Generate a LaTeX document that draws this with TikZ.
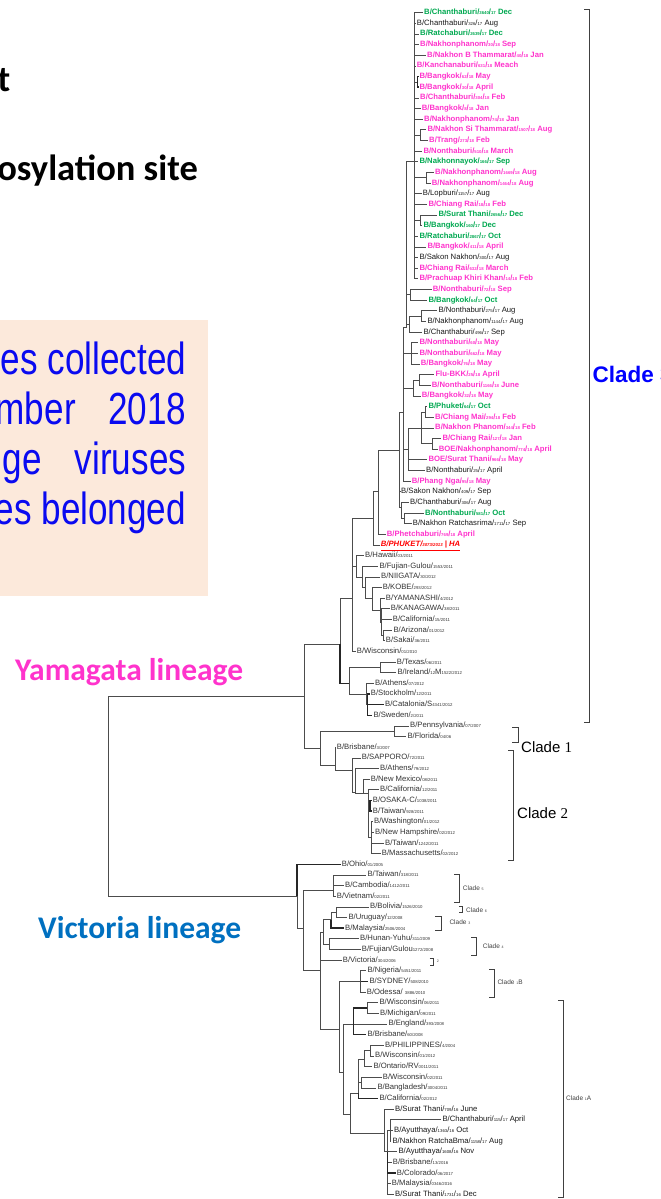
\documentclass[tikz,border=0pt]{standalone}
\usepackage{fontspec}
\setmainfont{Liberation Sans}
\newfontfamily\slidefont{Carlito}
\newfontfamily\narrowfont[FakeStretch=0.78]{Liberation Sans}
\newfontfamily\numfont{Liberation Serif}
\definecolor{magleaf}{RGB}{255,51,204}
\definecolor{grnleaf}{RGB}{0,168,80}
\definecolor{yamag}{RGB}{255,51,204}
\definecolor{vicblue}{RGB}{0,112,192}
\definecolor{cladeblue}{RGB}{0,0,255}
\definecolor{boxfill}{RGB}{252,233,219}
\definecolor{boxtext}{RGB}{10,10,240}
\newcommand{\sn}[1]{{\fontsize{4.3}{4}\selectfont #1}}
\newcommand{\cn}[1]{{\fontsize{3.6}{4}\selectfont #1}}

\begin{document}
\begin{tikzpicture}[x=1pt,y=-1pt,
    leaf/.style={anchor=west,inner sep=1pt,text height=5.6pt,text depth=1.6pt,font=\fontsize{7.7}{8}\selectfont},
    mg/.style={leaf,text=magleaf,font=\fontsize{7.7}{8}\selectfont\bfseries},
    gr/.style={leaf,text=grnleaf,font=\fontsize{7.7}{8}\selectfont\bfseries},
    bk/.style={leaf,text=black!90},
    rf/.style={leaf,text=black!80},
    hi/.style={leaf,text=red,font=\fontsize{7.7}{8}\selectfont\bfseries\itshape},
    br/.style={draw=black!70,line width=0.7pt},
    thk/.style={draw=black!85,line width=1.5pt},
    brk/.style={draw=black!75,line width=0.8pt},
    smallclade/.style={anchor=west,inner sep=0pt,text=black!75,font=\fontsize{6.5}{7}\selectfont},
    bigclade/.style={anchor=west,inner sep=0pt,font=\fontsize{15}{15}\selectfont},
    slide/.style={inner sep=0pt,font=\slidefont\fontsize{36.5}{37}\selectfont\bfseries},
    lineage/.style={anchor=base west,inner sep=0pt,font=\slidefont\fontsize{31.5}{32}\selectfont\bfseries},
    boxline/.style={anchor=base east,inner sep=0pt,text=boxtext,font=\narrowfont\fontsize{45}{45}\selectfont}]
  \useasboundingbox (0,0) rectangle (661,1199);

  \node[slide,anchor=base east] (frag1) at (10.5,91) {t};
  \node[slide,anchor=base east] (frag2) at (198,180) {osylation site};
  \fill[boxfill] (0,319.6) rectangle (207.8,596.3);
  \node[boxline] (bx1) at (186.3,374) {es collected};
  \node[boxline] (bx2a) at (75.9,424) {mber};
  \node[boxline] (bx2b) at (186.3,424) {2018};
  \node[boxline] (bx3a) at (42,474) {ge};
  \node[boxline] (bx3b) at (186.3,474) {viruses};
  \node[boxline] (bx4) at (186.3,524) {es belonged};
  \node[lineage,text=yamag] (yam) at (14.8,680) {Yamagata lineage};
  \node[lineage,text=vicblue] (vic) at (38,938) {Victoria lineage};

  \begin{scope}[y=-10.645pt,yshift=-2.055pt]
    \coordinate (root) at (108,74.6);
    \coordinate (Y) at (304,65.2);
    \coordinate (V) at (297,84);
    \coordinate (A) at (340,60.3);
    \coordinate (C12) at (320,70.1);
    \coordinate (S) at (352,56);
    \coordinate (W) at (349.3,64);
    \coordinate (R0) at (373,48.5);
    \coordinate (R1) at (378,46);
    \coordinate (Q) at (399.5,42.1);
    \coordinate (P2) at (403.3,38.5);
    \coordinate (P1) at (406,30.6);
    \coordinate (T1) at (414,15);
    \coordinate (s78) at (417.7,7.5);
    \coordinate (s1213) at (420,12.5);
    \coordinate (s1617) at (426.7,16.5);
    \coordinate (s2021) at (420,20.5);
    \coordinate (s2728) at (410.7,27.5);
    \coordinate (s2931) at (409.3,30.25);
    \coordinate (s2930) at (421.7,29.5);
    \coordinate (a32) at (411.7,33);
    \coordinate (a37) at (413.3,36.25);
    \coordinate (a35) at (419.3,35.5);
    \coordinate (c43) at (408.3,42);
    \coordinate (b2) at (421.7,40);
    \coordinate (b1) at (425,38.5);
    \coordinate (b3) at (432.7,41.5);
    \coordinate (d47) at (401.7,47.5);
    \coordinate (d48) at (404,48.5);
    \coordinate (h1) at (356.7,53);
    \coordinate (h2) at (362.7,54);
    \coordinate (h3) at (365,55);
    \coordinate (h4) at (372,56);
    \coordinate (h5) at (380,57.1);
    \coordinate (h6) at (381.7,58.25);
    \coordinate (h7) at (383,59.5);
    \coordinate (ti) at (380,62.5);
    \coordinate (as) at (366,65);
    \coordinate (as2) at (367.3,66);
    \coordinate (c1) at (394,68.5);
    \coordinate (c2) at (335,71.7);
    \coordinate (c2b) at (352.7,72.2);
    \coordinate (c2c) at (355,74.2);
    \coordinate (c2d) at (363.3,74.3);
    \coordinate (c2e) at (368.3,74.3);
    \coordinate (c2f) at (370,75.5);
    \coordinate (c2g) at (371.7,78.5);
    \coordinate (v1) at (303.3,87);
    \coordinate (c5) at (333,83.4);
    \coordinate (v2) at (320.7,91);
    \coordinate (c346) at (323.3,87.4);
    \coordinate (c36) at (331,86.2);
    \coordinate (n36) at (336,85.5);
    \coordinate (c4) at (329.3,88.5);
    \coordinate (v4) at (339.3,96.5);
    \coordinate (c1b) at (360.7,92);
    \coordinate (c1a) at (343.3,100.55);
    \coordinate (e1) at (353.3,96);
    \coordinate (e1a) at (367.3,94.5);
    \coordinate (e2) at (350,104.5);
    \coordinate (e3) at (358.3,102.5);
    \coordinate (e5) at (364,99.3);
    \coordinate (e5a) at (370,98.5);
    \coordinate (e6) at (361.7,101.5);
    \coordinate (e4) at (384.3,106.3);
    \coordinate (e7) at (387.3,108);
    \coordinate (e8) at (390,106);

    \node[gr] (l1) at (423,1) {B/Chanthaburi/\sn{3640}/\sn{17} Dec};
    \node[bk] (l2) at (415.7,2) {B/Chanthaburi/\sn{326}/\sn{17} Aug};
    \node[gr] (l3) at (419,3) {B/Ratchaburi/\sn{2639}/\sn{17} Dec};
    \node[mg] (l4) at (419,4) {B/Nakhonphanom/\sn{30}/\sn{18} Sep};
    \node[mg] (l5) at (426,5) {B/Nakhon B Thammarat/\sn{40}/\sn{18} Jan};
    \node[mg] (l6) at (415.7,6) {B/Kanchanaburi/\sn{631}/\sn{18} Meach};
    \node[mg] (l7) at (418.3,7) {B/Bangkok/\sn{62}/\sn{18} May};
    \node[mg] (l8) at (418.3,8) {B/Bangkok/\sn{30}/\sn{18} April};
    \node[mg] (l9) at (419,9) {B/Chanthaburi/\sn{304}/\sn{18} Feb};
    \node[mg] (l10) at (420.7,10) {B/Bangkok/\sn{8}/\sn{18} Jan};
    \node[mg] (l11) at (423,11) {B/Nakhonphanom/\sn{74}/\sn{18} Jan};
    \node[mg] (l12) at (426.3,12) {B/Nakhon Si Thammarat/\sn{1507}/\sn{18} Aug};
    \node[mg] (l13) at (428,13) {B/Trang/\sn{273}/\sn{18} Feb};
    \node[mg] (l14) at (422.3,14) {B/Nonthaburi/\sn{510}/\sn{18} March};
    \node[gr] (l15) at (418.3,15) {B/Nakhonnayok/\sn{166}/\sn{17} Sep};
    \node[mg] (l16) at (434,16) {B/Nakhonphanom/\sn{1669}/\sn{18} Aug};
    \node[mg] (l17) at (430.7,17) {B/Nakhonphanom/\sn{1464}/\sn{18} Aug};
    \node[bk] (l18) at (421.7,18) {B/Lopburi/\sn{1157}/\sn{17} Aug};
    \node[mg] (l19) at (427.3,19) {B/Chiang Rai/\sn{18}/\sn{18} Feb};
    \node[gr] (l20) at (437.3,20) {B/Surat Thani/\sn{2656}/\sn{17} Dec};
    \node[gr] (l21) at (422.3,21) {B/Bangkok/\sn{160}/\sn{17} Dec};
    \node[gr] (l22) at (418.3,22) {B/Ratchaburi/\sn{2867}/\sn{17} Oct};
    \node[mg] (l23) at (426.3,23) {B/Bangkok/\sn{411}/\sn{18} April};
    \node[bk] (l24) at (418.3,24) {B/Sakon Nakhon/\sn{300}/\sn{17} Aug};
    \node[mg] (l25) at (418.3,25) {B/Chiang Rai/\sn{632}/\sn{18} March};
    \node[mg] (l26) at (418.3,26) {B/Prachuap Khiri Khan/\sn{14}/\sn{18} Feb};
    \node[mg] (l27) at (431.7,27) {B/Nonthaburi/\sn{72}/\sn{18} Sep};
    \node[gr] (l28) at (427.3,28) {B/Bangkok/\sn{64}/\sn{17} Oct};
    \node[bk] (l29) at (437.3,29) {B/Nonthaburi/\sn{275}/\sn{17} Aug};
    \node[bk] (l30) at (426.3,30) {B/Nakhonphanom/\sn{1144}/\sn{17} Aug};
    \node[bk] (l31) at (422.3,31) {B/Chanthaburi/\sn{496}/\sn{17} Sep};
    \node[mg] (l32) at (418.3,32) {B/Nonthaburi/\sn{60}/\sn{18} May};
    \node[mg] (l33) at (418.3,33) {B/Nonthaburi/\sn{662}/\sn{18} May};
    \node[mg] (l34) at (419.7,34) {B/Bangkok/\sn{76}/\sn{18} May};
    \node[mg] (l35) at (434.3,35) {Flu-BKK/\sn{25}/\sn{18} April};
    \node[mg] (l36) at (430.7,36) {B/Nonthaburi/\sn{1166}/\sn{18} June};
    \node[mg] (l37) at (420.7,37) {B/Bangkok/\sn{32}/\sn{18} May};
    \node[gr] (l38) at (427.3,38) {B/Phuket/\sn{64}/\sn{17} Oct};
    \node[mg] (l39) at (434,39) {B/Chiang Mai/\sn{294}/\sn{18} Feb};
    \node[mg] (l40) at (434,40) {B/Nakhon Phanom/\sn{344}/\sn{18} Feb};
    \node[mg] (l41) at (441.3,41) {B/Chiang Rai/\sn{127}/\sn{18} Jan};
    \node[mg] (l42) at (437.7,42) {BOE/Nakhonphanom/\sn{774}/\sn{18} April};
    \node[mg] (l43) at (427.3,43) {BOE/Surat Thani/\sn{966}/\sn{18} May};
    \node[bk] (l44) at (425,44) {B/Nonthaburi/\sn{25}/\sn{17} April};
    \node[mg] (l45) at (410.7,45) {B/Phang Nga/\sn{95}/\sn{18} May};
    \node[bk] (l46) at (400,46) {B/Sakon Nakhon/\sn{409}/\sn{17} Sep};
    \node[bk] (l47) at (409,47) {B/Chanthaburi/\sn{306}/\sn{17} Aug};
    \node[gr] (l48) at (424,48) {B/Nonthaburi/\sn{581}/\sn{17} Oct};
    \node[bk] (l49) at (411.7,49) {B/Nakhon Ratchasrima/\sn{1711}/\sn{17} Sep};
    \node[mg] (l50) at (385.7,50) {B/Phetchaburi/\sn{769}/\sn{18} April};
    \node[hi] (l51) at (379.7,51) {\underline{B/PHUKET/\sn{3073/2013} | HA}};
    \node[rf] (l52) at (364,52) {B/Hawaii/\sn{03/2011}};
    \node[rf] (l53) at (378.3,53) {B/Fujian-Gulou/\sn{1553/2011}};
    \node[rf] (l54) at (380,54) {B/NIIGATA/\sn{30/2012}};
    \node[rf] (l55) at (381.7,55) {B/KOBE/\sn{293/2012}};
    \node[rf] (l56) at (384.7,56) {B/YAMANASHI/\sn{4/2012}};
    \node[rf] (l57) at (389.7,57) {B/KANAGAWA/\sn{38/2011}};
    \node[rf] (l58) at (391.7,58) {B/California/\sn{15/2011}};
    \node[rf] (l59) at (392.3,59) {B/Arizona/\sn{01/2012}};
    \node[rf] (l60) at (384.7,60) {B/Sakai/\sn{36/2011}};
    \node[rf] (l61) at (355.7,61) {B/Wisconsin/\sn{01/2010}};
    \node[rf] (l62) at (395.7,62) {B/Texas/\sn{06/2011}};
    \node[rf] (l63) at (396.3,63) {B/Ireland/\sn{12}M\sn{1522/2012}};
    \node[rf] (l64) at (374,64) {B/Athens/\sn{07/2012}};
    \node[rf] (l65) at (369.7,65) {B/Stockholm/\sn{12/2011}};
    \node[rf] (l66) at (384,66) {B/Catalonia/S\sn{4341/2012}};
    \node[rf] (l67) at (372.3,67) {B/Sweden/\sn{2/2011}};
    \node[rf] (l68) at (409,68) {B/Pennsylvania/\sn{07/2007}};
    \node[rf] (l69) at (406.3,69) {B/Florida/\sn{04/06}};
    \node[rf] (l70) at (335.7,70) {B/Brisbane/\sn{3/2007}};
    \node[rf] (l71) at (360.7,71) {B/SAPPORO/\sn{72/2011}};
    \node[rf] (l72) at (379,72) {B/Athens/\sn{79/2012}};
    \node[rf] (l73) at (369.7,73) {B/New Mexico/\sn{08/2011}};
    \node[rf] (l74) at (379,74) {B/California/\sn{12/2011}};
    \node[rf] (l75) at (371.7,75) {B/OSAKA-C/\sn{1038/2011}};
    \node[rf] (l76) at (371.7,76) {B/Taiwan/\sn{928/2011}};
    \node[rf] (l77) at (373,77) {B/Washington/\sn{01/2012}};
    \node[rf] (l78) at (374,78) {B/New Hampshire/\sn{02/2012}};
    \node[rf] (l79) at (384,79) {B/Taiwan/\sn{1242/2011}};
    \node[rf] (l80) at (380.7,80) {B/Massachusetts/\sn{02/2012}};
    \node[rf] (l81) at (340.7,81) {B/Ohio/\sn{01/2005}};
    \node[rf] (l82) at (366.3,82) {B/Taiwan/\sn{318/2011}};
    \node[rf] (l83) at (344,83) {B/Cambodia/\sn{1412/2011}};
    \node[rf] (l84) at (335.7,84) {B/Vietnam/\sn{02/2011}};
    \node[rf] (l85) at (369,85) {B/Bolivia/\sn{1526/2010}};
    \node[rf] (l86) at (347.3,86) {B/Uruguay/\sn{12/2008}};
    \node[rf] (l87) at (344,87) {B/Malaysia/\sn{2506/2004}};
    \node[rf] (l88) at (359,88) {B/Hunan-Yuhu/\sn{311/2009}};
    \node[rf] (l89) at (360.7,89) {B/Fujian/Gulou\sn{1272/2008}};
    \node[rf] (l90) at (341.7,90) {B/Victoria/\sn{304/2006}};
    \node[rf] (l91) at (366.3,91) {B/Nigeria/\sn{5451/2011}};
    \node[rf] (l92) at (368.3,92) {B/SYDNEY/\sn{508/2010}};
    \node[rf] (l93) at (365.7,93) {B/Odessa/ \sn{3886/2010}};
    \node[rf] (l94) at (378.3,94) {B/Wisconsin/\sn{06/2011}};
    \node[rf] (l95) at (379,95) {B/Michigan/\sn{09/2011}};
    \node[rf] (l96) at (387.3,96) {B/England/\sn{393/2008}};
    \node[rf] (l97) at (366.3,97) {B/Brisbane/\sn{60/2008}};
    \node[rf] (l98) at (384,98) {B/PHILIPPINES/\sn{4/2004}};
    \node[rf] (l99) at (374,99) {B/Wisconsin/\sn{01/2012}};
    \node[rf] (l100) at (372.3,100) {B/Ontario/RV\sn{0011/2011}};
    \node[rf] (l101) at (381.7,101) {B/Wisconsin/\sn{02/2011}};
    \node[rf] (l102) at (376.3,102) {B/Bangladesh/\sn{3004/2011}};
    \node[rf] (l103) at (378.3,103) {B/California/\sn{02/2012}};
    \node[bk] (l104) at (394,104) {B/Surat Thani/\sn{709}/\sn{16} June};
    \node[bk] (l105) at (441.3,105) {B/Chanthaburi/\sn{115}/\sn{17} April};
    \node[bk] (l106) at (393,106) {B/Ayutthaya/\sn{1363}/\sn{16} Oct};
    \node[bk] (l107) at (391.3,107) {B/Nakhon RatchaBma/\sn{1158}/\sn{17} Aug};
    \node[bk] (l108) at (397.3,108) {B/Ayutthaya/\sn{1608}/\sn{16} Nov};
    \node[rf] (l109) at (391.7,109) {B/Brisbane/\sn{13/2016}};
    \node[rf] (l110) at (395.7,110) {B/Colorado/\sn{06/2017}};
    \node[rf] (l111) at (390.7,111) {B/Malaysia/\sn{0346/2016}};
    \node[bk] (l112) at (394,112) {B/Surat Thani/\sn{1731}/\sn{16} Dec};

    \foreach \p/\c in {root/Y,root/V,Y/A,Y/C12,A/S,S/R0,S/h1,S/l61,R0/R1,R0/l51,R1/Q,R1/l50,
        Q/P2,Q/l46,Q/d47,d47/l47,d47/d48,d48/l48,d48/l49,P2/P1,P2/a32,P2/a37,P2/c43,P2/l45,
        P1/T1,P1/s2728,P1/s2931,T1/l1,T1/l2,T1/l3,T1/l4,T1/l5,T1/l6,T1/s78,T1/l9,T1/l10,T1/l11,
        T1/s1213,T1/l14,T1/l15,T1/s1617,T1/l18,T1/l19,T1/s2021,T1/l22,T1/l23,T1/l24,T1/l25,T1/l26,
        s1213/l12,s1213/l13,s1617/l16,s1617/l17,s2021/l20,s2021/l21,s2728/l27,s2728/l28,
        s2931/s2930,s2931/l31,s2930/l29,s2930/l30,a32/l32,a32/l33,a32/l34,a37/a35,a37/l37,
        a35/l35,a35/l36,c43/b2,c43/l43,c43/l44,b2/b1,b2/l40,b2/b3,b1/l38,b1/l39,b3/l41,b3/l42,
        h1/l52,h1/h2,h2/l53,h2/h3,h3/l54,h3/h4,h4/l55,h4/h5,h5/l56,h5/h6,h6/l57,h6/l58,h6/h7,
        h7/l59,h7/l60,W/ti,W/as,ti/l62,ti/l63,as/l64,as/as2,C12/c1,C12/c2,c1/l68,c1/l69,
        c2/l70,c2/c2b,c2b/l71,c2b/c2c,c2c/l72,c2c/c2d,c2d/l73,c2d/c2e,c2e/l74,c2e/c2f,c2e/c2g,
        c2g/l77,c2g/l78,c2g/l79,c2g/l80,V/v1,v1/c5,v1/v2,c5/l82,c5/l83,c5/l84,v2/c346,v2/l90,
        v2/v4,c346/c36,c346/c4,c36/n36,n36/l85,n36/l86,c4/l88,c4/l89,v4/c1b,v4/c1a,c1b/l91,
        c1b/l93,c1a/e1,c1a/e2,e1/l96,e1a/l94,e1a/l95,e2/e3,e2/e4,e3/e5,e3/e6,e5/e5a,e5/l100,
        e5a/l98,e5a/l99,e6/l101,e6/l102,e4/l104,e4/e7,e7/e8,e7/l108,e7/l109,e7/l111,e7/l112,
        e8/l105,e8/l106,e8/l107}
      \draw[br] (\p) |- (\c);
    \foreach \p/\c in {A/W,s78/l7,s78/l8,as2/l65,as2/l66,as2/l67,c2f/l75,c2f/l76,V/l81,
        c36/l87,c1b/l92,e1/e1a,e1/l97,e3/l103,e7/l110}
      \draw[thk] (\p) |- (\c);
  \end{scope}

  \draw[brk] (584,9.2) -- (589.4,9.2) -- (589.4,722.5) -- (584,722.5);
  \node[anchor=west,inner sep=0pt,text=cladeblue,font=\fontsize{22.5}{23}\selectfont\bfseries] (cl3y) at (592.3,374.6) {Clade 3};
  \draw[brk] (512,727) -- (518,727) -- (518,742) -- (512,742);
  \node[bigclade] (cl1) at (521,747) {Clade {\numfont 1}};
  \draw[brk] (508,750) -- (513,750) -- (513,860) -- (508,860);
  \node[bigclade] (cl2) at (517,812.7) {Clade {\numfont 2}};
  \draw[brk] (454,874) -- (459.3,874) -- (459.3,902.7) -- (454,902.7);
  \node[smallclade] (cl5) at (462.7,888.3) {Clade \cn{5}};
  \draw[brk] (459,906.7) -- (462.7,906.7) -- (462.7,912.7) -- (459,912.7);
  \node[smallclade] (cl6) at (466,910) {Clade \cn{6}};
  \draw[brk] (435,916.7) -- (441.7,916.7) -- (441.7,930) -- (435,930);
  \node[smallclade] (cl3v) at (449.3,921.7) {Clade \cn{3}};
  \draw[brk] (471,937.3) -- (476.7,937.3) -- (476.7,955) -- (471,955);
  \node[smallclade] (cl4) at (482.7,946) {Clade \cn{4}};
  \draw[brk] (429.5,958) -- (433.3,958) -- (433.3,965) -- (429.5,965);
  \node[smallclade] (cl2v) at (436.7,961.7) {\cn{2}};
  \draw[brk] (489,969) -- (494,969) -- (494,997.7) -- (489,997.7);
  \node[smallclade] (cl1b) at (497.3,981.7) {Clade \cn{1}B};
  \draw[brk] (558,1000) -- (563.3,1000) -- (563.3,1197.3) -- (558,1197.3);
  \node[smallclade] (cl1a) at (566,1098.3) {Clade \cn{1}A};
\end{tikzpicture}
\end{document}
